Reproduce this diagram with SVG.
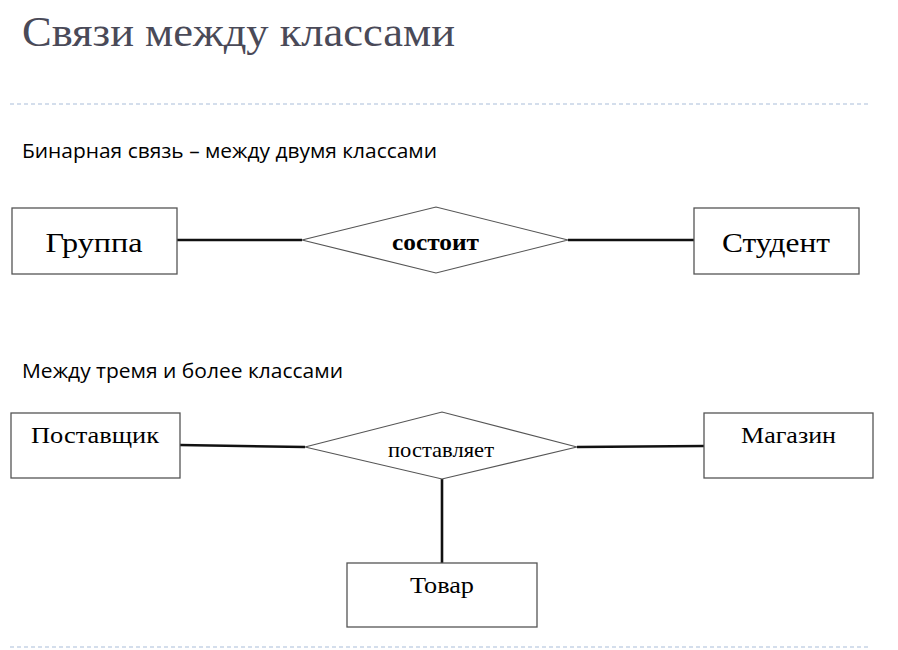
<svg xmlns="http://www.w3.org/2000/svg" width="898" height="650" viewBox="0 0 898 650">
<style>
.box{fill:#fff;stroke:#555;stroke-width:1.3}
.dia{fill:#fff;stroke:#555;stroke-width:1.2}
.con{stroke:#111;stroke-width:2.6;fill:none}
.sep{stroke:#c6d3e6;stroke-width:1.6;stroke-dasharray:4 3}
.lbl{font-family:"Liberation Serif","Times New Roman",serif;fill:#000;text-anchor:middle}
.sub{font-family:"Open Sans","Liberation Sans",sans-serif;font-size:20px;fill:#000}
.title{font-family:"Liberation Serif","DejaVu Serif",serif;font-size:42px;fill:#4a4a58}
</style>
<rect width="898" height="650" fill="#fff"/>
<text class="title" x="22" y="46" textLength="433" lengthAdjust="spacingAndGlyphs">Связи между классами</text>
<line class="sep" x1="10" y1="104" x2="870" y2="104"/>
<line class="sep" x1="10" y1="647" x2="870" y2="647"/>
<text class="sub" x="22" y="158" textLength="415" lengthAdjust="spacingAndGlyphs">Бинарная связь – между двумя классами</text>
<text class="sub" x="22" y="378" textLength="321" lengthAdjust="spacingAndGlyphs">Между тремя и более классами</text>
<g id="connectors">
<line class="con" x1="177" y1="240" x2="302" y2="240"/>
<line class="con" x1="568" y1="240" x2="694" y2="240"/>
<line class="con" x1="180" y1="445" x2="305" y2="447"/>
<line class="con" x1="577" y1="447" x2="704" y2="446"/>
<line class="con" x1="442" y1="479" x2="442" y2="563"/>
</g>
<g id="gruppa">
<rect class="box" x="12" y="208" width="165" height="66"/>
<text class="lbl" x="94" y="252" font-size="28" textLength="97" lengthAdjust="spacingAndGlyphs">Группа</text>
</g>
<g id="sostoit">
<polygon class="dia" points="302,240 436,207 568,240 436,273"/>
<text class="lbl" x="435.5" y="250" font-size="24" font-weight="bold" textLength="87" lengthAdjust="spacingAndGlyphs">состоит</text>
</g>
<g id="student">
<rect class="box" x="694" y="208" width="165" height="66"/>
<text class="lbl" x="776" y="252" font-size="28" textLength="108" lengthAdjust="spacingAndGlyphs">Студент</text>
</g>
<g id="postavshchik">
<rect class="box" x="11" y="413" width="169" height="65"/>
<text class="lbl" x="95" y="443" font-size="24" textLength="128" lengthAdjust="spacingAndGlyphs">Поставщик</text>
</g>
<g id="postavlyaet">
<polygon class="dia" points="305,447 442,412 577,447 442,479"/>
<text class="lbl" x="441" y="457" font-size="22" textLength="106" lengthAdjust="spacingAndGlyphs">поставляет</text>
</g>
<g id="magazin">
<rect class="box" x="704" y="413" width="169" height="65"/>
<text class="lbl" x="788.5" y="443" font-size="24" textLength="95" lengthAdjust="spacingAndGlyphs">Магазин</text>
</g>
<g id="tovar">
<rect class="box" x="347" y="563" width="190" height="64"/>
<text class="lbl" x="442" y="593" font-size="24" textLength="64" lengthAdjust="spacingAndGlyphs">Товар</text>
</g>
</svg>
